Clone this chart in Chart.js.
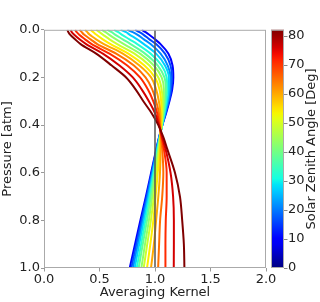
<!DOCTYPE html>
<html>
<head>
<meta charset="utf-8">
<script src="https://cdn.jsdelivr.net/npm/chart.js@4.4.0/dist/chart.umd.min.js"></script>
<style>
html, body { margin: 0; padding: 0; background: #fff; }
</style>
</head>
<body>
<canvas id="chart" width="320" height="302"></canvas>
<script>
// pressure levels [atm], shared by every curve
const pressure = [0, 0.01, 0.02, 0.04, 0.06, 0.1, 0.15, 0.2, 0.25, 0.3, 0.35, 0.4, 0.45, 0.5, 0.6, 0.7, 0.8, 0.9, 1.0];
// solar zenith angle of each curve [deg]
const zenithAngles = [10, 16, 21, 27, 32, 38, 43, 49, 54, 60, 65, 71, 76, 82];
const cbMax = 82;
// averaging kernel, one array per angle
const kernelSza10 = [0.88, 0.915, 0.945, 1.0, 1.05, 1.12, 1.158, 1.165, 1.155, 1.13, 1.10, 1.066, 1.037, 1.012, 0.965, 0.918, 0.868, 0.82, 0.772];
const kernelSza16 = [0.82, 0.86, 0.895, 0.95, 1.01, 1.09, 1.14, 1.153, 1.145, 1.125, 1.096, 1.066, 1.038, 1.014, 0.97, 0.925, 0.878, 0.832, 0.787];
const kernelSza21 = [0.75, 0.80, 0.84, 0.90, 0.96, 1.05, 1.115, 1.14, 1.135, 1.118, 1.092, 1.066, 1.04, 1.016, 0.976, 0.933, 0.889, 0.845, 0.802];
const kernelSza27 = [0.69, 0.74, 0.77, 0.84, 0.90, 1.01, 1.09, 1.125, 1.125, 1.11, 1.088, 1.065, 1.041, 1.02, 0.982, 0.942, 0.90, 0.858, 0.817];
const kernelSza32 = [0.63, 0.67, 0.70, 0.77, 0.84, 0.96, 1.06, 1.105, 1.11, 1.10, 1.083, 1.064, 1.043, 1.024, 0.988, 0.952, 0.913, 0.875, 0.835];
const kernelSza38 = [0.57, 0.61, 0.64, 0.71, 0.78, 0.91, 1.025, 1.085, 1.098, 1.09, 1.078, 1.062, 1.045, 1.028, 0.995, 0.962, 0.928, 0.89, 0.853];
const kernelSza43 = [0.52, 0.555, 0.585, 0.65, 0.72, 0.865, 0.99, 1.06, 1.08, 1.08, 1.072, 1.06, 1.046, 1.032, 1.003, 0.975, 0.945, 0.91, 0.877];
const kernelSza49 = [0.47, 0.50, 0.53, 0.59, 0.66, 0.815, 0.95, 1.03, 1.06, 1.068, 1.065, 1.058, 1.048, 1.038, 1.012, 0.99, 0.963, 0.93, 0.898];
const kernelSza54 = [0.42, 0.445, 0.47, 0.53, 0.60, 0.76, 0.905, 1.0, 1.04, 1.055, 1.058, 1.055, 1.05, 1.045, 1.025, 1.005, 0.985, 0.958, 0.928];
const kernelSza60 = [0.37, 0.39, 0.41, 0.47, 0.54, 0.71, 0.86, 0.965, 1.01, 1.035, 1.048, 1.05, 1.05, 1.05, 1.045, 1.03, 1.01, 0.99, 0.964];
const kernelSza65 = [0.32, 0.34, 0.36, 0.42, 0.48, 0.65, 0.81, 0.915, 0.975, 1.01, 1.035, 1.045, 1.055, 1.065, 1.075, 1.065, 1.046, 1.037, 1.028];
const kernelSza71 = [0.28, 0.295, 0.315, 0.37, 0.43, 0.59, 0.75, 0.865, 0.935, 0.985, 1.02, 1.04, 1.06, 1.08, 1.105, 1.105, 1.097, 1.094, 1.094];
const kernelSza76 = [0.24, 0.25, 0.27, 0.32, 0.38, 0.53, 0.68, 0.80, 0.88, 0.945, 1.0, 1.035, 1.065, 1.095, 1.14, 1.163, 1.17, 1.17, 1.169];
const kernelSza82 = [0.21, 0.22, 0.235, 0.28, 0.33, 0.47, 0.61, 0.74, 0.825, 0.895, 0.97, 1.03, 1.075, 1.11, 1.18, 1.225, 1.245, 1.26, 1.265];
const kernels = [kernelSza10, kernelSza16, kernelSza21, kernelSza27, kernelSza32, kernelSza38, kernelSza43,
    kernelSza49, kernelSza54, kernelSza60, kernelSza65, kernelSza71, kernelSza76, kernelSza82];

// matplotlib 'jet' colour map
function jet(t){
    var r, g, b;
    if(t < 0.35) r = 0; else if(t < 0.66) r = (t - 0.35) / 0.31; else if(t < 0.89) r = 1; else r = 1 - 0.5 * (t - 0.89) / 0.11;
    if(t < 0.125) g = 0; else if(t < 0.375) g = (t - 0.125) / 0.25; else if(t < 0.64) g = 1; else if(t < 0.91) g = 1 - (t - 0.64) / 0.27; else g = 0;
    if(t < 0.11) b = 0.5 + 0.5 * t / 0.11; else if(t < 0.34) b = 1; else if(t < 0.65) b = 1 - (t - 0.34) / 0.31; else b = 0;
    return `rgb(${Math.round(r*255)},${Math.round(g*255)},${Math.round(b*255)})`;
}

Chart.defaults.font.family = 'DejaVu Sans';
Chart.defaults.font.size = 13;
Chart.defaults.color = '#222';

// the kernel = 1 reference line goes on top
var datasets = [{
    data: [{x: 1, y: 0}, {x: 1, y: 1}],
    borderColor: '#555',
    borderWidth: 1.5,
    pointRadius: 0,
    order: 0
}];
zenithAngles.forEach(function(angle, i){
    datasets.push({
        data: pressure.map(function(p, j){ return {x: kernels[i][j], y: p}; }),
        borderColor: jet(angle / cbMax),
        borderWidth: 2,
        pointRadius: 0,
        tension: 0.4,
        cubicInterpolationMode: 'monotone',
        order: 100 - i
    });
});

// frame round the plot and the colour bar
const extras = {
    id: 'extras',
    afterDatasetsDraw(chart){
        const ctx = chart.ctx;
        const a = chart.chartArea;
        const cb = chart.scales.cb;
        ctx.save();
        ctx.strokeStyle = '#aaa';
        ctx.lineWidth = 1;
        ctx.strokeRect(a.left + 0.5, a.top + 0.5, a.right - a.left - 1, a.bottom - a.top - 1);
        // colour bar
        var x0 = a.right + 5, w = 13;
        var top = cb.getPixelForValue(cbMax), bottom = cb.getPixelForValue(0);
        var grad = ctx.createLinearGradient(0, bottom, 0, top);
        for(var i = 0; i <= 40; i++){
            grad.addColorStop(i / 40, jet(i / 40));
        }
        ctx.fillStyle = grad;
        ctx.fillRect(x0, top, w, bottom - top);
        ctx.strokeRect(x0 + 0.5, top + 0.5, w - 1, bottom - top - 1);
        ctx.strokeStyle = '#888';
        cb.ticks.forEach(function(t){
            var y = Math.round(cb.getPixelForValue(t.value)) + 0.5;
            ctx.beginPath();
            ctx.moveTo(x0 + w, y);
            ctx.lineTo(x0 + w + 3.5, y);
            ctx.stroke();
        });
        // colour bar label, reading upwards
        ctx.translate(312, (a.top + a.bottom) / 2);
        ctx.rotate(-Math.PI / 2);
        ctx.fillStyle = '#222';
        ctx.font = '13px "DejaVu Sans"';
        ctx.textAlign = 'center';
        ctx.textBaseline = 'middle';
        ctx.fillText('Solar Zenith Angle [Deg]', 0, 0);
        ctx.restore();
    }
};

var ctx = document.getElementById('chart').getContext('2d');
var chart = new Chart(ctx, {
    type: 'line',
    data: { datasets: datasets },
    plugins: [extras],
    options: {
        responsive: false,
        animation: false,
        indexAxis: 'y',
        layout: { padding: { top: 7, left: 0, right: 0, bottom: 0 } },
        plugins: { legend: { display: false }, tooltip: { enabled: false } },
        scales: {
            x: {
                type: 'linear',
                position: 'bottom',
                min: 0,
                max: 2,
                afterFit: function(scale){ scale.height = 34; },
                ticks: {
                    stepSize: 0.5,
                    padding: 0,
                    maxRotation: 0,
                    callback: function(v){ return v.toFixed(1); }
                },
                grid: { drawOnChartArea: false, tickLength: 3.5, color: '#999' },
                border: { display: false },
                title: { display: true, text: 'Averaging Kernel', padding: { top: 0, bottom: 2 } }
            },
            y: {
                type: 'linear',
                position: 'left',
                reverse: true,
                min: 0,
                max: 1,
                afterFit: function(scale){ scale.width = 44; },
                ticks: {
                    stepSize: 0.2,
                    padding: 1,
                    callback: function(v){ return v.toFixed(1); }
                },
                grid: { drawOnChartArea: false, tickLength: 3, color: '#999' },
                border: { display: false },
                title: { display: true, text: 'Pressure [atm]', padding: { top: 0, bottom: 0 } }
            },
            cb: {
                type: 'linear',
                position: 'right',
                min: 0,
                max: cbMax,
                afterFit: function(scale){ scale.width = 54; },
                ticks: { stepSize: 10, padding: 22, includeBounds: false },
                grid: { display: false, drawTicks: false },
                border: { display: false }
            }
        }
    }
});
</script>
</body>
</html>
